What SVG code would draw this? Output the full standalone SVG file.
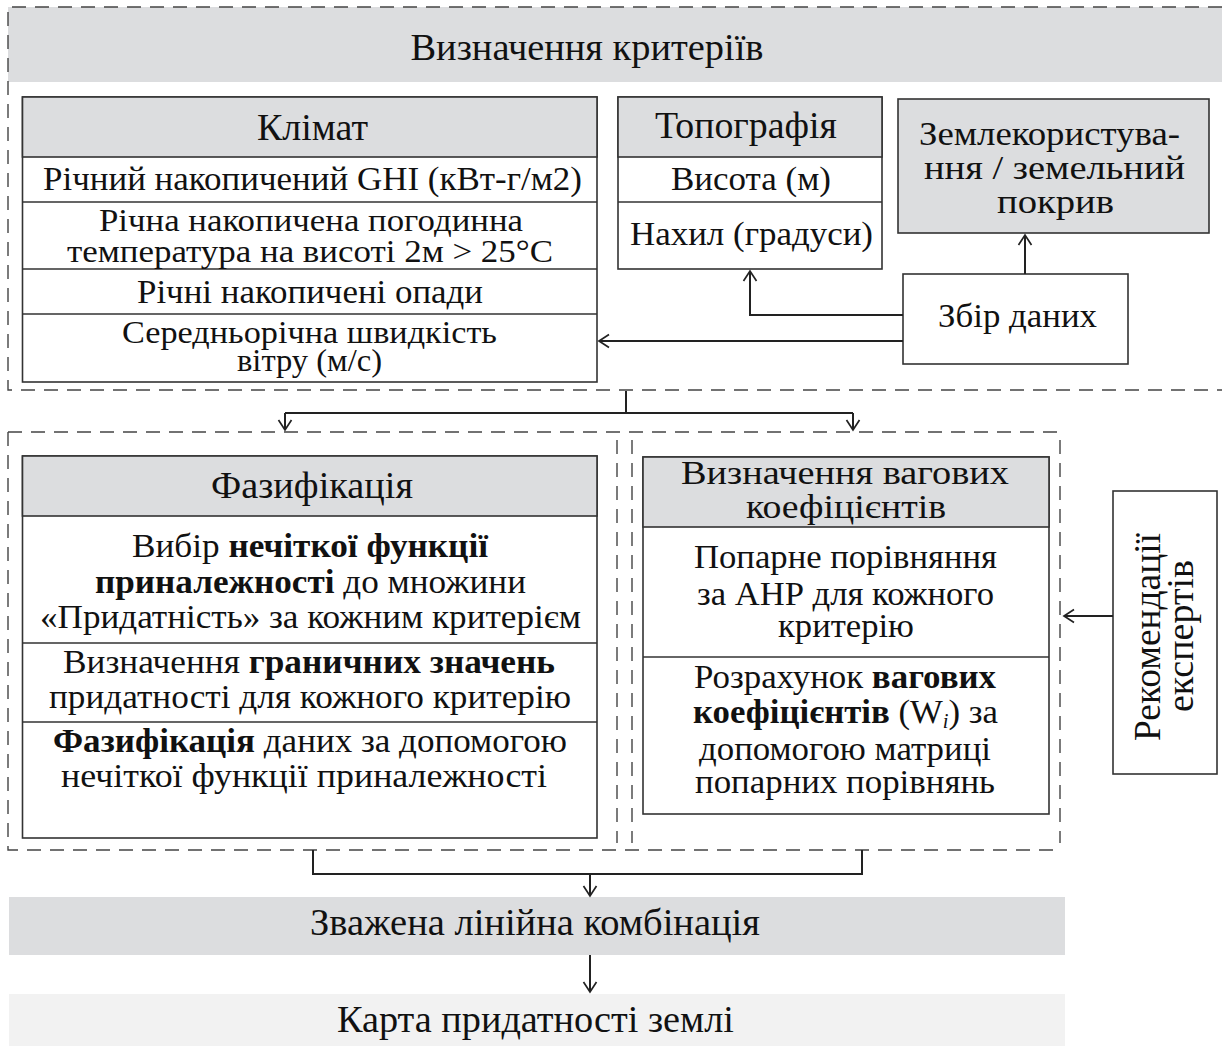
<svg xmlns="http://www.w3.org/2000/svg" width="1222" height="1046" viewBox="0 0 1222 1046">
<defs>
<marker id="arr" viewBox="-12 -8 14 16" refX="0" refY="0" markerWidth="14" markerHeight="16" markerUnits="userSpaceOnUse" orient="auto">
<path d="M-10,-6.5 L0,0 L-10,6.5" fill="none" stroke="#222" stroke-width="1.7"/>
</marker>
</defs>
<style>
text{font-family:"Liberation Serif","Times New Roman",serif;fill:#111;text-anchor:middle}
.t{font-size:34px}
.s{font-size:31px}
.h{font-size:37px}
.b{font-weight:bold}
.box{fill:#fff;stroke:#333;stroke-width:1.6}
.hd{fill:#dcdddf;stroke:#333;stroke-width:1.6}
.ln{stroke:#333;stroke-width:1.6}
.dash{fill:none;stroke:#444;stroke-width:1.4;stroke-dasharray:14 9}
.con{fill:none;stroke:#222;stroke-width:2}
</style>
<rect x="8" y="7" width="1214" height="75" fill="#dcdddf"/>
<g id="dashed">
<path class="dash" d="M1222,7 H8 V390 H1222"/>
<path class="dash" d="M8,432 H1060 M8,432 V850 H1060 M617,440 V843 M632,440 V843 M1060,440 V843"/>
</g>
<g id="title"><text x="587" y="60" style="font-size:38px" textLength="353" lengthAdjust="spacingAndGlyphs">Визначення критеріїв</text></g>
<g id="climate">
<rect class="box" x="22.5" y="97" width="574.5" height="285"/>
<rect class="hd" x="22.5" y="97" width="574.5" height="60"/>
<path class="ln" d="M22.5,202 H597 M22.5,269 H597 M22.5,314 H597"/>
<text class="h" style="font-size:38px" x="312.5" y="140" textLength="111" lengthAdjust="spacingAndGlyphs">Клімат</text>
<text class="t" x="312.5" y="190" textLength="539" lengthAdjust="spacingAndGlyphs">Річний накопичений GHI (кВт-г/м2)</text>
<text class="s" x="311" y="231" textLength="424" lengthAdjust="spacingAndGlyphs">Річна накопичена погодинна</text>
<text class="s" x="310" y="262" textLength="486" lengthAdjust="spacingAndGlyphs">температура на висоті 2м &gt; 25°C</text>
<text class="t" x="310" y="303" textLength="346" lengthAdjust="spacingAndGlyphs">Річні накопичені опади</text>
<text class="s" x="309.5" y="343" textLength="375" lengthAdjust="spacingAndGlyphs">Середньорічна швидкість</text>
<text class="s" x="309.5" y="371" textLength="145" lengthAdjust="spacingAndGlyphs">вітру (м/с)</text>
</g>
<g id="topography">
<rect class="box" x="618" y="97" width="264" height="172"/>
<rect class="hd" x="618" y="97" width="264" height="60"/>
<path class="ln" d="M618,202 H882"/>
<text class="h" x="746" y="138" textLength="182" lengthAdjust="spacingAndGlyphs">Топографія</text>
<text class="t" x="751" y="190" textLength="160" lengthAdjust="spacingAndGlyphs">Висота (м)</text>
<text class="t" x="751.5" y="245" textLength="243" lengthAdjust="spacingAndGlyphs">Нахил (градуси)</text>
</g>
<g id="landuse">
<rect class="hd" x="898" y="99" width="311" height="134"/>
<text style="font-size:33px" x="1049.5" y="145" textLength="261" lengthAdjust="spacingAndGlyphs">Землекористува-</text>
<text style="font-size:33px" x="1054.5" y="179" textLength="261" lengthAdjust="spacingAndGlyphs">ння / земельний</text>
<text style="font-size:33px" x="1055.5" y="213" textLength="117" lengthAdjust="spacingAndGlyphs">покрив</text>
</g>
<g id="datacollection">
<rect class="box" x="903" y="274" width="225" height="90"/>
<text class="t" x="1017.5" y="327" textLength="159" lengthAdjust="spacingAndGlyphs">Збір даних</text>
</g>
<g id="fuzzification">
<rect class="box" x="22.5" y="456" width="574.5" height="382"/>
<rect class="hd" x="22.5" y="456" width="574.5" height="60"/>
<path class="ln" d="M22.5,643 H597 M22.5,722 H597"/>
<text class="h" x="312" y="498" textLength="202" lengthAdjust="spacingAndGlyphs">Фазифікація</text>
<text class="t" x="310" y="557" textLength="356" lengthAdjust="spacingAndGlyphs">Вибір <tspan class="b">нечіткої функції</tspan></text>
<text class="t" x="310.5" y="593" textLength="431" lengthAdjust="spacingAndGlyphs"><tspan class="b">приналежності</tspan> до множини</text>
<text class="t" x="310.5" y="628" textLength="541" lengthAdjust="spacingAndGlyphs">«Придатність» за кожним критерієм</text>
<text class="t" x="309" y="673" textLength="492" lengthAdjust="spacingAndGlyphs">Визначення <tspan class="b">граничних значень</tspan></text>
<text class="t" x="310" y="708" textLength="522" lengthAdjust="spacingAndGlyphs">придатності для кожного критерію</text>
<text class="t" x="310" y="752" textLength="514" lengthAdjust="spacingAndGlyphs"><tspan class="b">Фазифікація</tspan> даних за допомогою</text>
<text class="t" x="304" y="787" textLength="486" lengthAdjust="spacingAndGlyphs">нечіткої функції приналежності</text>
</g>
<g id="weights">
<rect class="box" x="643" y="457" width="406" height="357"/>
<rect class="hd" x="643" y="457" width="406" height="70"/>
<path class="ln" d="M643,657 H1049"/>
<text style="font-size:33px" x="845" y="484" textLength="328" lengthAdjust="spacingAndGlyphs">Визначення вагових</text>
<text style="font-size:33px" x="846" y="518" textLength="200" lengthAdjust="spacingAndGlyphs">коефіцієнтів</text>
<text class="t" x="845.5" y="568" textLength="303" lengthAdjust="spacingAndGlyphs">Попарне порівняння</text>
<text class="t" x="845.5" y="605" textLength="297" lengthAdjust="spacingAndGlyphs">за АНР для кожного</text>
<text class="t" x="846" y="637" textLength="136" lengthAdjust="spacingAndGlyphs">критерію</text>
<text class="t" x="845" y="688" textLength="302" lengthAdjust="spacingAndGlyphs">Розрахунок <tspan class="b">вагових</tspan></text>
<text class="t" x="845.5" y="723" textLength="305" lengthAdjust="spacingAndGlyphs"><tspan class="b">коефіцієнтів</tspan> (W<tspan font-style="italic" font-size="20" dy="5">i</tspan><tspan dy="-5">) за</tspan></text>
<text class="t" x="845" y="760" textLength="292" lengthAdjust="spacingAndGlyphs">допомогою матриці</text>
<text class="t" x="845" y="793" textLength="300" lengthAdjust="spacingAndGlyphs">попарних порівнянь</text>
</g>
<g id="experts">
<rect class="box" x="1113" y="491" width="104" height="283"/>
<text style="font-size:38px" transform="translate(1160,637) rotate(-90)" x="0" y="0" textLength="208" lengthAdjust="spacingAndGlyphs">Рекомендації</text>
<text style="font-size:38px" transform="translate(1193,636) rotate(-90)" x="0" y="0" textLength="152" lengthAdjust="spacingAndGlyphs">експертів</text>
</g>
<g id="wlc">
<rect x="9" y="897" width="1056" height="58" fill="#dcdddf"/>
<text class="h" x="535" y="935" textLength="450" lengthAdjust="spacingAndGlyphs">Зважена лінійна комбінація</text>
</g>
<g id="map">
<rect x="9" y="994" width="1056" height="52" fill="#f2f2f2"/>
<text class="h" x="535.5" y="1032" textLength="397" lengthAdjust="spacingAndGlyphs">Карта придатності землі</text>
</g>
<g id="connectors">
<path class="con" d="M903,341 H599" marker-end="url(#arr)"/>
<path class="con" d="M903,315 H750 V271" marker-end="url(#arr)"/>
<path class="con" d="M1025,274 V235" marker-end="url(#arr)"/>
<path class="con" d="M626,391 V413 M285,413 H853"/>
<path class="con" d="M285,413 V430" marker-end="url(#arr)"/>
<path class="con" d="M853,413 V430" marker-end="url(#arr)"/>
<path class="con" d="M1113,616 H1064" marker-end="url(#arr)"/>
<path class="con" d="M313,850 V874 H862 V850"/>
<path class="con" d="M590,874 V896" marker-end="url(#arr)"/>
<path class="con" d="M590,955 V992" marker-end="url(#arr)"/>
</g>
</svg>
